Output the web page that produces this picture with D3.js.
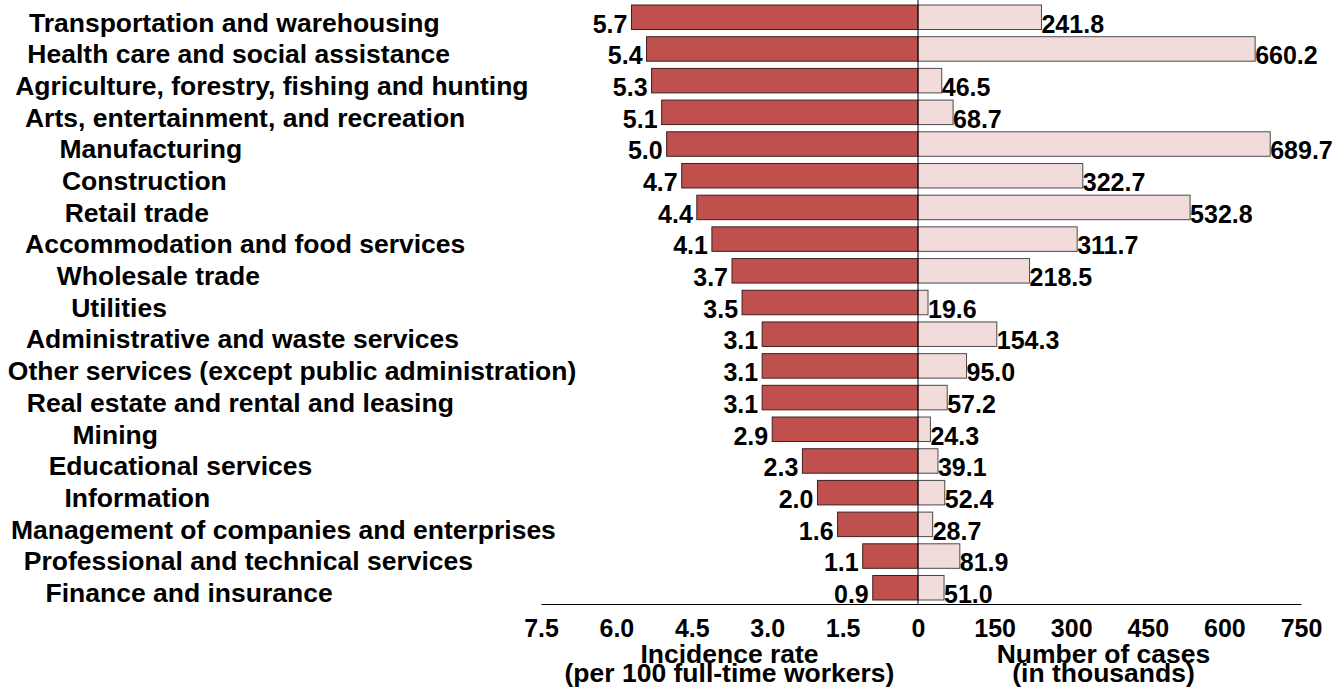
<!DOCTYPE html>
<html>
<head>
<meta charset="utf-8">
<script src="https://cdn.jsdelivr.net/npm/d3@7"></script>
<style>
  body { margin: 0; background: #fff; }
  text { font-family: "Liberation Sans", Arial, sans-serif; font-weight: bold; fill: #000; }
</style>
</head>
<body>
<div id="chart"></div>
<script>
var industries = [
  "Transportation and warehousing",
  "Health care and social assistance",
  "Agriculture, forestry, fishing and hunting",
  "Arts, entertainment, and recreation",
  "Manufacturing",
  "Construction",
  "Retail trade",
  "Accommodation and food services",
  "Wholesale trade",
  "Utilities",
  "Administrative and waste services",
  "Other services (except public administration)",
  "Real estate and rental and leasing",
  "Mining",
  "Educational services",
  "Information",
  "Management of companies and enterprises",
  "Professional and technical services",
  "Finance and insurance"
];
var rates = [5.7, 5.4, 5.3, 5.1, 5.0, 4.7, 4.4, 4.1, 3.7, 3.5, 3.1, 3.1, 3.1, 2.9, 2.3, 2.0, 1.6, 1.1, 0.9];
var cases = [241.8, 660.2, 46.5, 68.7, 689.7, 322.7, 532.8, 311.7, 218.5, 19.6, 154.3, 95.0, 57.2, 24.3, 39.1, 52.4, 28.7, 81.9, 51.0];
var rateTicks = [7.5, 6.0, 4.5, 3.0, 1.5, 0];
var caseTicks = [150, 300, 450, 600, 750];

var width = 1343, height = 689;
var mid = 918, axisY = 604;
var labelSize = 26.5, valueSize = 25;

var svg = d3.select("#chart").append("svg")
    .attr("width", width)
    .attr("height", height);

var y = d3.scaleBand()
    .domain(industries)
    .range([0, 605])
    .paddingInner(0.227)
    .paddingOuter(0.158);

var xl = d3.scaleLinear().domain([0, 7.5]).range([mid, 541]);
var xr = d3.scaleLinear().domain([0, 750]).range([mid, 1301]);

var rows = industries.map(function(d, i) { return {name: d, rate: rates[i], cases: cases[i]}; });

// left bars: incidence rate
svg.selectAll("rect.rate")
    .data(rows)
    .enter().append("rect")
    .attr("class", "rate")
    .attr("x", function(d) { return xl(d.rate); })
    .attr("y", function(d) { return y(d.name); })
    .attr("width", function(d) { return mid - xl(d.rate); })
    .attr("height", y.bandwidth())
    .style("fill", "#c0504d")
    .style("stroke", "#3b2020")
    .style("stroke-width", 1);

// right bars: number of cases
svg.selectAll("rect.cases")
    .data(rows)
    .enter().append("rect")
    .attr("class", "cases")
    .attr("x", mid)
    .attr("y", function(d) { return y(d.name); })
    .attr("width", function(d) { return xr(d.cases) - mid; })
    .attr("height", y.bandwidth())
    .style("fill", "#f2dcdb")
    .style("stroke", "#4a4a4a")
    .style("stroke-width", 1);

// value labels
svg.selectAll("text.rateval")
    .data(rows)
    .enter().append("text")
    .attr("class", "rateval")
    .attr("x", function(d) { return xl(d.rate) - 4; })
    .attr("y", function(d) { return y(d.name) + y.bandwidth() + 3; })
    .attr("text-anchor", "end")
    .attr("font-size", valueSize)
    .text(function(d) { return d.rate.toFixed(1); });

svg.selectAll("text.caseval")
    .data(rows)
    .enter().append("text")
    .attr("class", "caseval")
    .attr("x", function(d) { return xr(d.cases); })
    .attr("y", function(d) { return y(d.name) + y.bandwidth() + 3; })
    .attr("font-size", valueSize)
    .text(function(d) { return d.cases.toFixed(1); });

// category labels
svg.selectAll("text.cat")
    .data(rows)
    .enter().append("text")
    .attr("class", "cat")
    .attr("y", function(d) { return y(d.name) + y.bandwidth() + 2; })
    .attr("font-size", labelSize)
    .text(function(d) { return d.name; })
    .attr("x", function() { return 84 - 0.134 * this.getComputedTextLength(); });

// center line
svg.append("line")
    .attr("x1", mid).attr("x2", mid)
    .attr("y1", 0).attr("y2", axisY)
    .style("stroke", "#000")
    .style("stroke-width", 1);

// axes
svg.append("g")
    .attr("transform", "translate(0," + axisY + ")")
    .call(d3.axisBottom(xl).tickValues(rateTicks).tickSize(0).tickPadding(15)
        .tickFormat(function(d) { return d === 0 ? "0" : d3.format(".1f")(d); }));
svg.append("g")
    .attr("transform", "translate(0," + axisY + ")")
    .call(d3.axisBottom(xr).tickValues(caseTicks).tickSize(0).tickPadding(15));

svg.selectAll(".tick text")
    .attr("font-size", valueSize)
    .style("font-family", "'Liberation Sans', Arial, sans-serif")
    .style("font-weight", "bold")
    .style("fill", "#000");
svg.selectAll(".domain").style("stroke", "#000").style("stroke-width", 1);

// axis titles
var lc = (xl.range()[0] + xl.range()[1]) / 2;
var rc = (xr.range()[0] + xr.range()[1]) / 2;
svg.append("text").attr("x", lc).attr("y", 663).attr("text-anchor", "middle")
    .attr("font-size", labelSize).text("Incidence rate");
svg.append("text").attr("x", lc).attr("y", 682).attr("text-anchor", "middle")
    .attr("font-size", labelSize).text("(per 100 full-time workers)");
svg.append("text").attr("x", rc - 6).attr("y", 663).attr("text-anchor", "middle")
    .attr("font-size", labelSize).text("Number of cases");
svg.append("text").attr("x", rc - 6).attr("y", 682).attr("text-anchor", "middle")
    .attr("font-size", labelSize).text("(in thousands)");
</script>
</body>
</html>
